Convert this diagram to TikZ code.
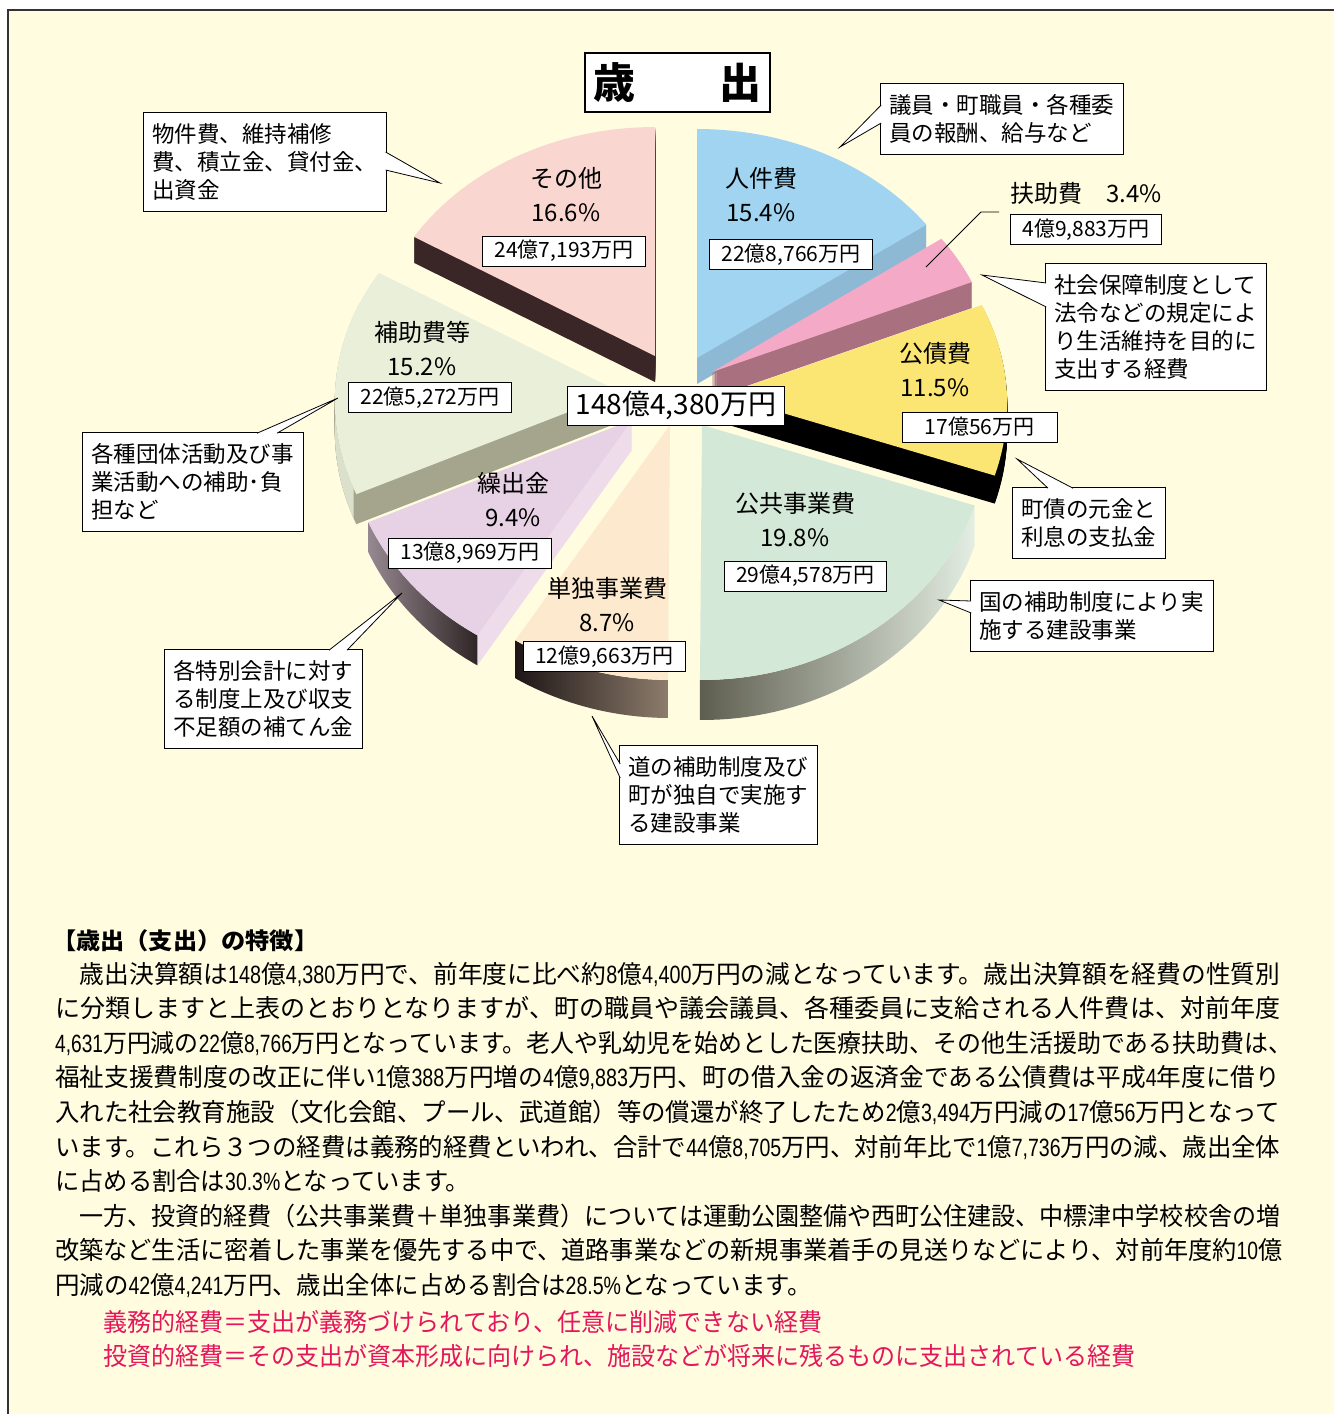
\documentclass[tikz,border=0pt]{standalone}
\usepackage{graphicx}
\usepackage{fontspec}
\setmainfont{Noto Sans CJK JP}
\newfontfamily\numfont[FakeStretch=0.8]{Liberation Sans}
\newcommand{\nm}[1]{{\numfont #1}}
\usetikzlibrary{positioning}
\usetikzlibrary{calc}

\definecolor{cream}{RGB}{255,252,224}
\definecolor{redtxt}{RGB}{228,22,92}
\definecolor{sonotatop}{RGB}{249,215,208}
\definecolor{sonotawall}{RGB}{58,38,38}
\definecolor{jinkentop}{RGB}{160,212,240}
\definecolor{jinkenwall}{RGB}{141,185,213}
\definecolor{fujotop}{RGB}{244,170,198}
\definecolor{fujowall}{RGB}{169,113,127}
\definecolor{kosaitop}{RGB}{251,230,116}
\definecolor{kokyotop}{RGB}{211,232,214}
\definecolor{kokyodark}{RGB}{94,94,80}
\definecolor{kokyolight}{RGB}{228,238,226}
\definecolor{tandokutop}{RGB}{253,233,205}
\definecolor{tandokudark}{RGB}{30,22,22}
\definecolor{tandokulight}{RGB}{141,124,108}
\definecolor{kuridashitop}{RGB}{231,209,228}
\definecolor{kuridashiside}{RGB}{238,220,234}
\definecolor{kuridashidark}{RGB}{47,38,38}
\definecolor{kuridashilight}{RGB}{150,136,144}
\definecolor{hojotop}{RGB}{233,239,217}
\definecolor{hojowall}{RGB}{165,165,141}
\definecolor{hojoarc}{RGB}{218,224,203}

% top face of one slice: apex x, apex y, start angle, end angle
\newcommand{\piewedge}[4]{(#1,#2) -- plot[domain=#3:#4,samples=40] ({#1+rx(\x)*sin(\x)},{#2-ry(\x)*cos(\x)}) -- cycle}
% outer side of one slice, #5 = depth
\newcommand{\piewall}[5]{plot[domain=#3:#4,samples=40] ({#1+rx(\x)*sin(\x)},{#2-ry(\x)*cos(\x)}) -- plot[domain=#4:#3,samples=40] ({#1+rx(\x)*sin(\x)},{#2+#5-ry(\x)*cos(\x)}) -- cycle}
% pointer of a callout box
\newcommand{\callptr}[3]{\fill[white] (#1) -- (#3) -- (#2) -- cycle; \draw[line width=0.8pt] (#1) -- (#3) -- (#2);}
% one line of running text squeezed to its width
\newcommand{\fitline}[2]{\resizebox{#1pt}{\height}{#2}}

\begin{document}
\begin{tikzpicture}[x=1pt,y=-1pt,
    declare function={rx(\t)=285-11*cos(\t); ry(\t)=242-13*cos(\t);},
    pielabel/.style={align=center,inner sep=0pt,font=\fontsize{24}{34}\selectfont},
    valbox/.style={draw,line width=0.8pt,fill=white,inner xsep=12pt,inner ysep=0pt,minimum height=30pt,font=\fontsize{21}{24}\selectfont},
    callbox/.style={draw,line width=0.8pt,fill=white,align=left,anchor=north west,inner xsep=9pt,inner ysep=11pt,font=\fontsize{22.5}{28}\selectfont},
    bodyline/.style={anchor=base west,inner sep=0pt,font=\fontsize{25}{30}\selectfont},
    redline/.style={bodyline,text=redtxt}
    ]

    \useasboundingbox (0,0) rectangle (1334,1414);
    \fill[white] (0,0) rectangle (1334,1414);
    \fill[cream] (8,10) rectangle (1334,1414);
    \draw[line width=1.5pt,black!80] (8,1414) -- (8,10) -- (1334,10);

    % slices, back to front
    \foreach \k in {1,...,26} \fill[sonotawall,shift={(0,\k)}] \piewedge{655}{356}{300.4}{360};
    \fill[sonotatop] \piewedge{655}{356}{300.4}{360};

    \foreach \k in {1,...,26} \fill[jinkenwall,shift={(0,\k)}] \piewedge{697}{358}{0}{55.4};
    \fill[jinkentop] \piewedge{697}{358}{0}{55.4};

    \foreach \k in {1,...,26} \fill[fujowall,shift={(0,\k)}] \piewedge{712}{372}{55.4}{67.7};
    \fill[fujotop] \piewedge{712}{372}{55.4}{67.7};

    \foreach \k in {1,...,30} \fill[hojowall,shift={(0,\k)}] \piewedge{620}{392}{245.6}{300.4};
    \fill[hojoarc] \piewall{620}{392}{247}{292}{30};
    \fill[hojotop] \piewedge{620}{392}{245.6}{300.4};

    \foreach \k in {1,...,28} \fill[black,shift={(0,\k)}] \piewedge{722}{395}{67.7}{109.1};
    \fill[kosaitop] \piewedge{722}{395}{67.7}{109.1};

    \foreach \k in {1,...,30} \fill[kuridashiside,shift={(0,\k)}] \piewedge{632}{420}{211.7}{245.6};
    \shade[left color=kuridashilight,right color=kuridashidark] \piewall{632}{420}{211.7}{245.6}{30};
    \fill[kuridashitop] \piewedge{632}{420}{211.7}{245.6};

    \shade[left color=tandokudark,right color=tandokulight] \piewall{670}{425}{180.4}{211.7}{38};
    \fill[tandokutop] \piewedge{670}{425}{180.4}{211.7};

    \shade[left color=kokyodark,middle color=kokyotop!70!kokyodark,right color=kokyolight] \piewall{702}{425}{109.1}{180.4}{40};
    \fill[kokyotop] \piewedge{702}{425}{109.1}{180.4};

    % title
    \node[draw,line width=2.5pt,fill=white,minimum width=185pt,minimum height=59pt,
      font=\bfseries\fontsize{42}{46}\selectfont] (title) at (677.5,82.5) {歳　　出};

    % slice labels
    \node[pielabel] (sonota) at (566,195) {その他\\16.6\%};
    \node[pielabel] (jinken) at (761,195) {人件費\\15.4\%};
    \node[pielabel] (fujo) at (1086,193) {扶助費　3.4\%};
    \node[pielabel] (kosai) at (935,370) {公債費\\11.5\%};
    \node[pielabel] (kokyo) at (795,520) {公共事業費\\19.8\%};
    \node[pielabel] (hojo) at (422,349) {補助費等\\15.2\%};
    \node[pielabel] (kuridashi) at (513,500) {繰出金\\9.4\%};
    \node[pielabel] (tandoku) at (607,604.5) {単独事業費\\8.7\%};

    \node[valbox] (sonotav) at (564,251) {24億7,193万円};
    \node[valbox] (jinkenv) at (791,254.5) {22億8,766万円};
    \node[valbox, below=10pt of fujo] (fujov) {4億9,883万円};
    \node[valbox,minimum width=155pt] (kosaiv) at (979.5,427) {17億56万円};
    \node[valbox] (kokyov) at (805.5,576) {29億4,578万円};
    \node[valbox] (hojov) at (430,397.5) {22億5,272万円};
    \node[valbox] (kuridashiv) at (470,553) {13億8,969万円};
    \node[valbox] (tandokuv) at (604.5,656.5) {12億9,663万円};
    \node[valbox,minimum height=39pt,inner xsep=8pt,font=\fontsize{28}{32}\selectfont] (total) at (676,405.5) {148億4,380万円};

    \coordinate (fujoend) at (926,267);
    \draw[line width=0.8pt] (fujoend) -- ++(55,-55) -- ++(18,0);

    % callouts
    \node[callbox] (giin) at (880,83) {議員・町職員・各種委\\員の報酬、給与など};
    \node[callbox] (bukken) at (143,112) {物件費、維持補修\\費、積立金、貸付金、\\出資金};
    \node[callbox] (shakai) at (1045,263) {社会保障制度として\\法令などの規定によ\\り生活維持を目的に\\支出する経費};
    \node[callbox] (chosai) at (1012,487) {町債の元金と\\利息の支払金};
    \node[callbox] (kuni) at (970,580) {国の補助制度により実\\施する建設事業};
    \node[callbox] (kakushu) at (82,432) {各種団体活動及び事\\業活動への補助･負\\担など};
    \node[callbox] (tokubetsu) at (164,649) {各特別会計に対す\\る制度上及び収支\\不足額の補てん金};
    \node[callbox] (michi) at (619,745) {道の補助制度及び\\町が独自で実施す\\る建設事業};

    \coordinate (giintip) at (840,147);
    \coordinate (bukkentip) at (440,183);
    \coordinate (shakaitip) at (982,275);
    \coordinate (chosaitip) at (1017,459);
    \coordinate (kunitip) at (939,600);
    \coordinate (kakushutip) at (338,398);
    \coordinate (tokubetsutip) at (402,593);
    \coordinate (michitip) at (592,716);

    \callptr{$(giin.north west)+(1.2,22)$}{$(giin.north west)+(1.2,40)$}{giintip}
    \callptr{$(bukken.north east)+(-1.2,40)$}{$(bukken.north east)+(-1.2,58)$}{bukkentip}
    \callptr{$(shakai.north west)+(1.2,20)$}{$(shakai.north west)+(1.2,44)$}{shakaitip}
    \callptr{$(chosai.north west)+(36,1.2)$}{$(chosai.north west)+(61,1.2)$}{chosaitip}
    \callptr{$(kuni.north west)+(1.2,21)$}{$(kuni.north west)+(1.2,33)$}{kunitip}
    \callptr{$(kakushu.north west)+(175,1.2)$}{$(kakushu.north west)+(195,1.2)$}{kakushutip}
    \callptr{$(tokubetsu.north west)+(165,1.2)$}{$(tokubetsu.north west)+(183,1.2)$}{tokubetsutip}
    \callptr{$(michi.north west)+(1.2,19)$}{$(michi.north west)+(1.2,33)$}{michitip}

    % text below the chart
    \node[bodyline,font=\bfseries\fontsize{23}{30}\selectfont] (head) at (52,949) {\fitline{266}{【歳出（支出）の特徴】}};
    \foreach \n/\w/\txt in {
      0/1225/{　歳出決算額は\nm{148}億\nm{4,380}万円で、前年度に比べ約\nm{8}億\nm{4,400}万円の減となっています。歳出決算額を経費の性質別},
      1/1225/{に分類しますと上表のとおりとなりますが、町の職員や議会議員、各種委員に支給される人件費は、対前年度},
      2/1237/{\nm{4,631}万円減の\nm{22}億\nm{8,766}万円となっています。老人や乳幼児を始めとした医療扶助、その他生活援助である扶助費は、},
      3/1225/{福祉支援費制度の改正に伴い\nm{1}億\nm{388}万円増の\nm{4}億\nm{9,883}万円、町の借入金の返済金である公債費は平成\nm{4}年度に借り},
      4/1225/{入れた社会教育施設（文化会館、プール、武道館）等の償還が終了したため\nm{2}億\nm{3,494}万円減の\nm{17}億\nm{56}万円となって},
      5/1225/{います。これら３つの経費は義務的経費といわれ、合計で\nm{44}億\nm{8,705}万円、対前年比で\nm{1}億\nm{7,736}万円の減、歳出全体},
      6/415/{に占める割合は\nm{30.3\%}となっています。},
      7/1225/{　一方、投資的経費（公共事業費＋単独事業費）については運動公園整備や西町公住建設、中標津中学校校舎の増},
      8/1227/{改築など生活に密着した事業を優先する中で、道路事業などの新規事業着手の見送りなどにより、対前年度約\nm{10}億},
      9/757/{円減の\nm{42}億\nm{4,241}万円、歳出全体に占める割合は\nm{28.5\%}となっています。}}
      \node[bodyline] (body\n) at (55,{983+34.6*\n}) {\fitline{\w}{\txt}};

    \node[redline] (gimu) at (103,1331) {\fitline{719}{義務的経費＝支出が義務づけられており、任意に削減できない経費}};
    \node[redline] (toshi) at (103,1365) {\fitline{1032}{投資的経費＝その支出が資本形成に向けられ、施設などが将来に残るものに支出されている経費}};

\end{tikzpicture}
\end{document}
